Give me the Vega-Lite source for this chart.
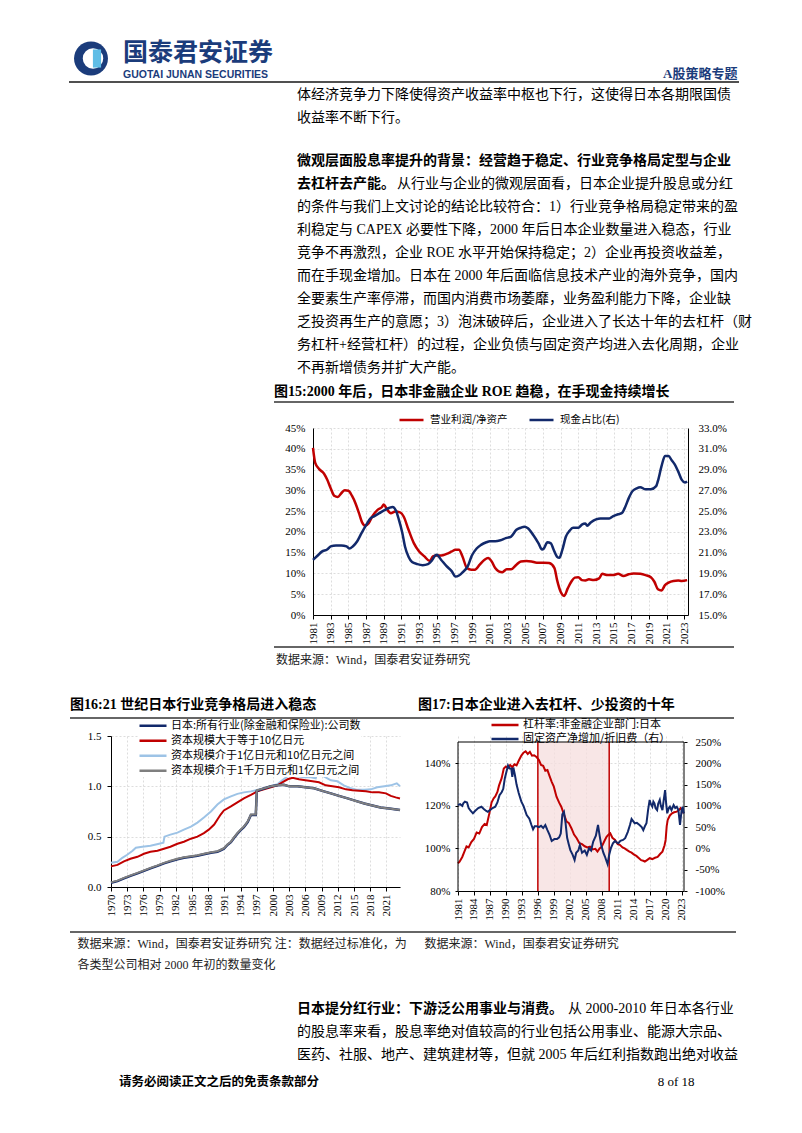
{
"$schema": "https://vega.github.io/schema/vega-lite/v6.json",
"background": "white",
"padding": 0,
"autosize": {"type": "pad"},
"spacing": 0,
"bounds": "full",
"resolve": {"scale": {"color": "independent"}, "legend": {"color": "independent"}},
"config": {
  "view": {"stroke": null},
  "axis": {"labelFont": "Liberation Serif", "labelFontSize": 11, "labelColor": "#000", "domainColor": "#000", "tickColor": "#000", "tickSize": 3, "gridColor": "#d4d4d4", "gridDash": [2, 2], "gridWidth": 0.8, "labelOverlap": false, "labelPadding": 3},
  "legend": {"labelFont": "Noto Sans CJK SC", "labelFontSize": 11, "labelColor": "#000", "symbolType": "stroke", "symbolStrokeWidth": 2.5, "labelLimit": 400, "padding": 0}
},
"datasets": {
  "roe": [{"t":1981.0,"v":40.2},{"t":1981.25,"v":36.6},{"t":1981.7,"v":35.1},{"t":1982.25,"v":34.0},{"t":1982.6,"v":32.6},{"t":1983.0,"v":30.5},{"t":1983.4,"v":28.7},{"t":1983.8,"v":28.4},{"t":1984.2,"v":29.3},{"t":1984.6,"v":30.0},{"t":1985.0,"v":29.9},{"t":1985.4,"v":28.7},{"t":1985.8,"v":26.9},{"t":1986.2,"v":24.5},{"t":1986.55,"v":22.3},{"t":1986.9,"v":21.5},{"t":1987.3,"v":22.1},{"t":1987.7,"v":23.7},{"t":1988.3,"v":25.3},{"t":1988.8,"v":26.0},{"t":1989.0,"v":26.6},{"t":1989.3,"v":25.7},{"t":1989.8,"v":24.5},{"t":1990.3,"v":24.9},{"t":1990.85,"v":24.7},{"t":1991.25,"v":23.7},{"t":1991.8,"v":20.5},{"t":1992.4,"v":17.3},{"t":1993.0,"v":15.3},{"t":1993.6,"v":14.1},{"t":1994.2,"v":13.0},{"t":1994.55,"v":14.1},{"t":1995.0,"v":14.3},{"t":1995.5,"v":14.3},{"t":1996.1,"v":14.7},{"t":1996.7,"v":15.3},{"t":1997.1,"v":15.7},{"t":1997.5,"v":15.7},{"t":1997.9,"v":14.1},{"t":1998.4,"v":11.3},{"t":1998.9,"v":10.9},{"t":1999.3,"v":10.9},{"t":1999.85,"v":12.1},{"t":2000.4,"v":13.3},{"t":2000.8,"v":13.7},{"t":2001.2,"v":12.9},{"t":2001.6,"v":11.3},{"t":2002.0,"v":10.5},{"t":2002.4,"v":10.3},{"t":2002.9,"v":11.0},{"t":2003.4,"v":11.0},{"t":2004.0,"v":12.1},{"t":2004.5,"v":12.9},{"t":2005.1,"v":13.0},{"t":2005.7,"v":12.9},{"t":2006.3,"v":12.6},{"t":2007.1,"v":12.6},{"t":2007.7,"v":12.5},{"t":2008.3,"v":11.3},{"t":2008.6,"v":8.4},{"t":2009.0,"v":5.6},{"t":2009.4,"v":4.6},{"t":2009.8,"v":6.4},{"t":2010.2,"v":8.0},{"t":2010.6,"v":9.0},{"t":2011.0,"v":9.1},{"t":2011.4,"v":8.4},{"t":2011.8,"v":8.3},{"t":2012.2,"v":8.6},{"t":2012.75,"v":8.4},{"t":2013.35,"v":8.8},{"t":2013.7,"v":9.9},{"t":2014.3,"v":9.6},{"t":2014.9,"v":9.6},{"t":2015.5,"v":9.9},{"t":2016.1,"v":9.4},{"t":2016.7,"v":9.8},{"t":2017.25,"v":10.0},{"t":2018.0,"v":9.9},{"t":2018.6,"v":9.6},{"t":2019.2,"v":9.1},{"t":2019.6,"v":8.0},{"t":2020.0,"v":6.2},{"t":2020.4,"v":5.9},{"t":2020.8,"v":7.2},{"t":2021.2,"v":7.8},{"t":2021.75,"v":8.2},{"t":2022.3,"v":8.3},{"t":2022.7,"v":8.2},{"t":2023.3,"v":8.4}],
  "cash": [{"t":1981.0,"v":20.3},{"t":1981.5,"v":20.7},{"t":1982.0,"v":21.1},{"t":1982.6,"v":21.3},{"t":1983.0,"v":21.6},{"t":1983.6,"v":21.7},{"t":1984.2,"v":21.7},{"t":1984.8,"v":21.6},{"t":1985.1,"v":21.4},{"t":1985.5,"v":21.6},{"t":1986.0,"v":22.1},{"t":1986.5,"v":22.9},{"t":1987.1,"v":23.8},{"t":1987.5,"v":24.3},{"t":1987.9,"v":24.5},{"t":1988.5,"v":24.8},{"t":1989.1,"v":25.1},{"t":1989.6,"v":25.3},{"t":1990.0,"v":25.4},{"t":1990.4,"v":25.0},{"t":1990.7,"v":24.2},{"t":1991.1,"v":22.9},{"t":1991.4,"v":21.6},{"t":1991.8,"v":20.6},{"t":1992.2,"v":20.1},{"t":1992.8,"v":19.9},{"t":1993.4,"v":19.8},{"t":1994.0,"v":19.9},{"t":1994.4,"v":20.2},{"t":1994.8,"v":20.7},{"t":1995.0,"v":20.8},{"t":1995.5,"v":20.3},{"t":1996.1,"v":19.7},{"t":1996.7,"v":19.2},{"t":1997.1,"v":18.7},{"t":1997.5,"v":18.8},{"t":1997.9,"v":19.1},{"t":1998.5,"v":19.7},{"t":1998.95,"v":20.7},{"t":1999.5,"v":21.4},{"t":2000.0,"v":21.75},{"t":2000.6,"v":22.0},{"t":2001.0,"v":22.1},{"t":2001.6,"v":22.1},{"t":2002.2,"v":22.2},{"t":2002.8,"v":22.4},{"t":2003.4,"v":22.55},{"t":2004.0,"v":23.2},{"t":2004.5,"v":23.4},{"t":2004.9,"v":23.5},{"t":2005.3,"v":23.35},{"t":2005.9,"v":22.7},{"t":2006.5,"v":21.9},{"t":2006.9,"v":21.3},{"t":2007.1,"v":21.4},{"t":2007.5,"v":22.0},{"t":2007.9,"v":21.9},{"t":2008.2,"v":21.3},{"t":2008.6,"v":20.6},{"t":2008.85,"v":20.5},{"t":2009.2,"v":21.3},{"t":2009.6,"v":22.55},{"t":2010.0,"v":23.1},{"t":2010.4,"v":23.4},{"t":2011.0,"v":23.4},{"t":2011.4,"v":23.7},{"t":2011.8,"v":23.8},{"t":2012.0,"v":23.6},{"t":2012.4,"v":23.9},{"t":2013.0,"v":24.2},{"t":2013.5,"v":24.3},{"t":2014.1,"v":24.3},{"t":2014.5,"v":24.3},{"t":2014.9,"v":24.5},{"t":2015.5,"v":24.7},{"t":2015.9,"v":24.8},{"t":2016.3,"v":25.4},{"t":2016.7,"v":26.25},{"t":2017.1,"v":26.9},{"t":2017.6,"v":27.2},{"t":2018.0,"v":27.3},{"t":2018.6,"v":27.1},{"t":2019.2,"v":27.1},{"t":2019.8,"v":27.4},{"t":2020.0,"v":27.9},{"t":2020.4,"v":29.3},{"t":2020.8,"v":30.3},{"t":2021.2,"v":30.3},{"t":2021.55,"v":29.9},{"t":2021.9,"v":29.5},{"t":2022.3,"v":28.8},{"t":2022.7,"v":28.0},{"t":2023.05,"v":27.75},{"t":2023.3,"v":27.85}],
  "lb": [{"t":1970,"v":0.24},{"t":1971.2,"v":0.25},{"t":1972.1,"v":0.29},{"t":1973,"v":0.32},{"t":1974,"v":0.36},{"t":1974.6,"v":0.39},{"t":1975.8,"v":0.4},{"t":1977.3,"v":0.41},{"t":1978.9,"v":0.43},{"t":1979.7,"v":0.44},{"t":1979.9,"v":0.5},{"t":1981,"v":0.52},{"t":1982.3,"v":0.54},{"t":1983.5,"v":0.57},{"t":1984.8,"v":0.6},{"t":1986,"v":0.64},{"t":1987.2,"v":0.69},{"t":1988.5,"v":0.75},{"t":1989.7,"v":0.82},{"t":1990.9,"v":0.87},{"t":1992.2,"v":0.9},{"t":1993.4,"v":0.925},{"t":1994.6,"v":0.94},{"t":1995.9,"v":0.95},{"t":1997.1,"v":0.965},{"t":1998.3,"v":0.98},{"t":1999.6,"v":1.0},{"t":2000.8,"v":1.02},{"t":2001.7,"v":1.06},{"t":2002.7,"v":1.1},{"t":2003.3,"v":1.12},{"t":2004.5,"v":1.1},{"t":2005.7,"v":1.09},{"t":2007,"v":1.09},{"t":2007.9,"v":1.08},{"t":2008.2,"v":1.135},{"t":2009.4,"v":1.1},{"t":2010.7,"v":1.06},{"t":2011.9,"v":1.05},{"t":2013.1,"v":1.01},{"t":2014.4,"v":0.98},{"t":2015.6,"v":0.965},{"t":2016.9,"v":0.965},{"t":2018.1,"v":0.97},{"t":2019.3,"v":0.99},{"t":2020.6,"v":1.0},{"t":2021.8,"v":1.01},{"t":2022.9,"v":1.03},{"t":2023.5,"v":1.0}],
  "rd": [{"t":1970,"v":0.205},{"t":1971.2,"v":0.22},{"t":1972.4,"v":0.255},{"t":1973.6,"v":0.28},{"t":1974.9,"v":0.3},{"t":1976.1,"v":0.33},{"t":1977.3,"v":0.35},{"t":1978.6,"v":0.36},{"t":1979.8,"v":0.38},{"t":1981,"v":0.4},{"t":1982.3,"v":0.43},{"t":1983.5,"v":0.45},{"t":1984.8,"v":0.48},{"t":1986,"v":0.5},{"t":1987.2,"v":0.535},{"t":1988.1,"v":0.57},{"t":1989.1,"v":0.62},{"t":1989.7,"v":0.67},{"t":1990.3,"v":0.72},{"t":1990.9,"v":0.76},{"t":1992.2,"v":0.8},{"t":1993.4,"v":0.84},{"t":1994.6,"v":0.88},{"t":1995.9,"v":0.915},{"t":1997.1,"v":0.95},{"t":1998.3,"v":0.97},{"t":1999.6,"v":0.99},{"t":2000.8,"v":1.01},{"t":2001.7,"v":1.04},{"t":2002.7,"v":1.07},{"t":2003.6,"v":1.085},{"t":2004.8,"v":1.07},{"t":2006,"v":1.06},{"t":2007.3,"v":1.05},{"t":2008.5,"v":1.04},{"t":2009.75,"v":1.01},{"t":2011,"v":1.0},{"t":2012.2,"v":0.99},{"t":2013.5,"v":0.97},{"t":2014.7,"v":0.96},{"t":2015.9,"v":0.955},{"t":2017.2,"v":0.95},{"t":2018.4,"v":0.94},{"t":2019.6,"v":0.94},{"t":2020.9,"v":0.93},{"t":2021.8,"v":0.905},{"t":2022.7,"v":0.89},{"t":2023.5,"v":0.88}],
  "gy": [{"t":1970,"v":0.046},{"t":1971.2,"v":0.063},{"t":1972.4,"v":0.09},{"t":1973.6,"v":0.115},{"t":1974.9,"v":0.14},{"t":1976.1,"v":0.165},{"t":1977.3,"v":0.19},{"t":1978.6,"v":0.215},{"t":1979.8,"v":0.24},{"t":1981,"v":0.26},{"t":1982.3,"v":0.28},{"t":1983.5,"v":0.295},{"t":1984.8,"v":0.305},{"t":1986,"v":0.315},{"t":1987.2,"v":0.33},{"t":1988.5,"v":0.345},{"t":1989.7,"v":0.355},{"t":1990.3,"v":0.37},{"t":1990.9,"v":0.385},{"t":1991.6,"v":0.425},{"t":1992.2,"v":0.45},{"t":1992.8,"v":0.495},{"t":1993.4,"v":0.535},{"t":1994,"v":0.57},{"t":1994.6,"v":0.6},{"t":1995.3,"v":0.65},{"t":1995.9,"v":0.72},{"t":1996.5,"v":0.72},{"t":1996.8,"v":0.72},{"t":1997,"v":0.96},{"t":1998.3,"v":0.98},{"t":1999.6,"v":1.0},{"t":2000.8,"v":1.01},{"t":2002,"v":1.015},{"t":2003,"v":1.0},{"t":2004.5,"v":1.0},{"t":2006,"v":0.99},{"t":2007.6,"v":0.98},{"t":2009.1,"v":0.955},{"t":2010.7,"v":0.93},{"t":2012.2,"v":0.905},{"t":2013.8,"v":0.88},{"t":2015.3,"v":0.855},{"t":2016.9,"v":0.83},{"t":2018.4,"v":0.81},{"t":2019.9,"v":0.79},{"t":2021.5,"v":0.78},{"t":2023.5,"v":0.765}],
  "nv": [{"t":1970,"v":0.042},{"t":1971.2,"v":0.058},{"t":1972.4,"v":0.085},{"t":1973.6,"v":0.11},{"t":1974.9,"v":0.135},{"t":1976.1,"v":0.16},{"t":1977.3,"v":0.185},{"t":1978.6,"v":0.21},{"t":1979.8,"v":0.235},{"t":1981,"v":0.255},{"t":1982.3,"v":0.275},{"t":1983.5,"v":0.29},{"t":1984.8,"v":0.3},{"t":1986,"v":0.31},{"t":1987.2,"v":0.325},{"t":1988.5,"v":0.34},{"t":1989.7,"v":0.35},{"t":1990.3,"v":0.365},{"t":1990.9,"v":0.38},{"t":1991.6,"v":0.42},{"t":1992.2,"v":0.445},{"t":1992.8,"v":0.49},{"t":1993.4,"v":0.53},{"t":1994,"v":0.565},{"t":1994.6,"v":0.595},{"t":1995.3,"v":0.645},{"t":1995.9,"v":0.715},{"t":1996.5,"v":0.715},{"t":1996.8,"v":0.715},{"t":1997,"v":0.955},{"t":1998.3,"v":0.978},{"t":1999.6,"v":1.0},{"t":2000.8,"v":1.01},{"t":2002,"v":1.015},{"t":2003,"v":1.0},{"t":2004.5,"v":1.0},{"t":2006,"v":0.99},{"t":2007.6,"v":0.98},{"t":2009.1,"v":0.955},{"t":2010.7,"v":0.93},{"t":2012.2,"v":0.905},{"t":2013.8,"v":0.88},{"t":2015.3,"v":0.855},{"t":2016.9,"v":0.83},{"t":2018.4,"v":0.81},{"t":2019.9,"v":0.79},{"t":2021.5,"v":0.78},{"t":2023.5,"v":0.765}],
  "lev": [{"t":1981.0,"v":93.0},{"t":1981.3,"v":93.8},{"t":1981.8,"v":96.0},{"t":1982.2,"v":98.5},{"t":1982.6,"v":101.0},{"t":1983.0,"v":100.5},{"t":1983.5,"v":103.0},{"t":1984.0,"v":104.5},{"t":1984.5,"v":107.5},{"t":1985.0,"v":107.0},{"t":1985.5,"v":110.0},{"t":1986.0,"v":111.5},{"t":1986.4,"v":111.0},{"t":1986.9,"v":116.6},{"t":1987.3,"v":121.5},{"t":1987.7,"v":123.5},{"t":1988.0,"v":124.4},{"t":1988.4,"v":126.5},{"t":1988.7,"v":129.5},{"t":1989.2,"v":133.0},{"t":1989.6,"v":137.5},{"t":1990.0,"v":138.5},{"t":1990.4,"v":137.8},{"t":1990.8,"v":139.2},{"t":1991.2,"v":138.2},{"t":1991.6,"v":139.5},{"t":1992.0,"v":139.0},{"t":1992.4,"v":141.2},{"t":1992.9,"v":143.6},{"t":1993.3,"v":145.0},{"t":1993.7,"v":145.6},{"t":1994.1,"v":144.4},{"t":1994.5,"v":145.4},{"t":1994.9,"v":143.6},{"t":1995.3,"v":143.8},{"t":1995.8,"v":142.8},{"t":1996.2,"v":141.5},{"t":1996.6,"v":139.2},{"t":1997.0,"v":138.8},{"t":1997.4,"v":136.5},{"t":1997.8,"v":136.8},{"t":1998.2,"v":134.0},{"t":1998.6,"v":131.3},{"t":1999.0,"v":129.0},{"t":1999.5,"v":124.3},{"t":2000.0,"v":121.5},{"t":2000.4,"v":119.6},{"t":2000.9,"v":116.0},{"t":2001.4,"v":112.6},{"t":2001.8,"v":112.0},{"t":2002.3,"v":109.5},{"t":2002.8,"v":106.5},{"t":2003.3,"v":104.8},{"t":2003.8,"v":102.5},{"t":2004.3,"v":102.0},{"t":2004.8,"v":101.0},{"t":2005.3,"v":100.5},{"t":2005.8,"v":100.8},{"t":2006.3,"v":99.5},{"t":2006.8,"v":99.8},{"t":2007.2,"v":98.5},{"t":2007.6,"v":100.0},{"t":2008.0,"v":100.8},{"t":2008.5,"v":103.5},{"t":2008.9,"v":105.5},{"t":2009.3,"v":106.5},{"t":2009.6,"v":107.1},{"t":2010.0,"v":105.0},{"t":2010.5,"v":104.0},{"t":2011.0,"v":102.0},{"t":2011.4,"v":101.7},{"t":2011.9,"v":100.5},{"t":2012.3,"v":100.0},{"t":2012.7,"v":99.3},{"t":2013.2,"v":98.5},{"t":2013.6,"v":98.0},{"t":2014.0,"v":97.2},{"t":2014.5,"v":96.5},{"t":2015.0,"v":95.4},{"t":2015.4,"v":94.5},{"t":2015.8,"v":94.2},{"t":2016.1,"v":93.8},{"t":2016.5,"v":94.5},{"t":2017.0,"v":95.4},{"t":2017.5,"v":95.0},{"t":2018.0,"v":95.6},{"t":2018.5,"v":96.0},{"t":2019.0,"v":97.5},{"t":2019.4,"v":98.5},{"t":2019.8,"v":101.5},{"t":2020.0,"v":104.0},{"t":2020.2,"v":110.5},{"t":2020.4,"v":113.5},{"t":2020.8,"v":115.5},{"t":2021.2,"v":116.5},{"t":2021.6,"v":117.0},{"t":2022.1,"v":117.3},{"t":2022.5,"v":118.0},{"t":2022.8,"v":118.9},{"t":2023.1,"v":117.8},{"t":2023.4,"v":116.5}],
  "fa": [{"t":1981.0,"v":102},{"t":1981.4,"v":104},{"t":1981.8,"v":100},{"t":1982.0,"v":106},{"t":1982.3,"v":110},{"t":1982.7,"v":108},{"t":1983.0,"v":95},{"t":1983.4,"v":88},{"t":1983.8,"v":82.5},{"t":1984.2,"v":88},{"t":1984.8,"v":95},{"t":1985.4,"v":98},{"t":1985.9,"v":92},{"t":1986.3,"v":88},{"t":1986.6,"v":86},{"t":1987.0,"v":90},{"t":1987.5,"v":95},{"t":1988.0,"v":98},{"t":1988.4,"v":108},{"t":1988.8,"v":125},{"t":1989.2,"v":132},{"t":1989.5,"v":140},{"t":1989.8,"v":165},{"t":1990.1,"v":180},{"t":1990.4,"v":195},{"t":1990.7,"v":188},{"t":1991.0,"v":188},{"t":1991.2,"v":168},{"t":1991.4,"v":190},{"t":1991.7,"v":172},{"t":1992.0,"v":150},{"t":1992.4,"v":130},{"t":1992.9,"v":110},{"t":1993.3,"v":100},{"t":1993.9,"v":78.5},{"t":1994.4,"v":70},{"t":1994.8,"v":55},{"t":1995.1,"v":45},{"t":1995.4,"v":52},{"t":1995.8,"v":52},{"t":1996.2,"v":50},{"t":1996.6,"v":53},{"t":1997.0,"v":48},{"t":1997.4,"v":55},{"t":1997.8,"v":43},{"t":1998.2,"v":32},{"t":1998.6,"v":17.5},{"t":1999.1,"v":22},{"t":1999.6,"v":22},{"t":2000.0,"v":26},{"t":2000.3,"v":35},{"t":2000.6,"v":80},{"t":2000.9,"v":86},{"t":2001.2,"v":60},{"t":2001.5,"v":25},{"t":2001.8,"v":10},{"t":2002.1,"v":-4},{"t":2002.5,"v":-14},{"t":2002.9,"v":-27},{"t":2003.2,"v":-10},{"t":2003.6,"v":-5},{"t":2003.9,"v":8},{"t":2004.3,"v":-10},{"t":2004.8,"v":-5},{"t":2005.2,"v":-15},{"t":2005.6,"v":0},{"t":2006.0,"v":-5},{"t":2006.4,"v":16},{"t":2006.9,"v":30},{"t":2007.3,"v":55},{"t":2007.6,"v":30},{"t":2007.9,"v":8},{"t":2008.3,"v":-10},{"t":2008.6,"v":-19},{"t":2008.9,"v":-30},{"t":2009.1,"v":-37},{"t":2009.4,"v":-15},{"t":2009.7,"v":0},{"t":2010.1,"v":12},{"t":2010.5,"v":17.5},{"t":2010.8,"v":14},{"t":2011.1,"v":12},{"t":2011.5,"v":18},{"t":2012.0,"v":20},{"t":2012.4,"v":24},{"t":2012.9,"v":39},{"t":2013.3,"v":55},{"t":2013.6,"v":69},{"t":2013.9,"v":64},{"t":2014.2,"v":59},{"t":2014.6,"v":60},{"t":2015.1,"v":55},{"t":2015.5,"v":50},{"t":2015.8,"v":43},{"t":2016.1,"v":52},{"t":2016.4,"v":59},{"t":2016.7,"v":90},{"t":2017.0,"v":114},{"t":2017.2,"v":105},{"t":2017.5,"v":98},{"t":2017.7,"v":110},{"t":2017.9,"v":106},{"t":2018.1,"v":95},{"t":2018.4,"v":90},{"t":2018.6,"v":105},{"t":2018.9,"v":114},{"t":2019.1,"v":100},{"t":2019.4,"v":90},{"t":2019.6,"v":110},{"t":2019.9,"v":137},{"t":2020.1,"v":105},{"t":2020.3,"v":82.5},{"t":2020.6,"v":95},{"t":2020.8,"v":98},{"t":2021.1,"v":90},{"t":2021.5,"v":102},{"t":2021.8,"v":95},{"t":2022.1,"v":98},{"t":2022.4,"v":90},{"t":2022.7,"v":55},{"t":2023.0,"v":90},{"t":2023.2,"v":98},{"t":2023.4,"v":82}]
},
"vconcat": [
  {"width":1,"height":36,"data":{"values":[]},"mark":"point"},

  {"hconcat":[
    {"width":69,"height":1,"data":{"values":[]},"mark":"point"},
    {"width":108,"height":45,"data":{"values":[{"name":"国泰君安证券","en":"GUOTAI JUNAN SECURITIES"}]},
     "layer":[
      {"mark":{"type":"point","shape":"circle","filled":true,"size":1150,"color":"#1b3c7b","opacity":1,"xOffset":-32},"encoding":{}},
      {"mark":{"type":"point","shape":"circle","filled":true,"size":420,"color":"#ffffff","opacity":1,"xOffset":-30},"encoding":{}},
      {"mark":{"type":"point","shape":"M-0.45,-1L0.45,-1L0.45,1L-0.45,1Z","filled":true,"size":330,"color":"#5fbde6","opacity":1,"xOffset":-26},"encoding":{}},
      {"mark":{"type":"text","align":"left","baseline":"middle","font":"Noto Sans CJK SC","fontSize":25,"fontWeight":"bold","color":"#1b3c7b","dy":-6},"encoding":{"text":{"field":"name"}}},
      {"mark":{"type":"text","align":"left","baseline":"middle","font":"Liberation Sans","fontSize":10.5,"fontWeight":"bold","color":"#1b3c7b","dy":16},"encoding":{"text":{"field":"en"}}}
     ]},
    {"width":560,"height":1,"data":{"values":[]},"mark":"point"},
    {"width":1,"height":45,"data":{"values":[{"t":"A股策略专题"}]},"mark":{"type":"text","align":"right","baseline":"middle","font":"Liberation Serif, Noto Sans CJK SC","fontSize":13,"fontWeight":"bold","color":"#1b3c7b","dy":15.5},"encoding":{"text":{"field":"t"}}}
  ],"spacing":0,"bounds":"flush"},

  {"hconcat":[
    {"width":69,"height":2,"data":{"values":[]},"mark":"point"},
    {"width":670,"height":2,"data":{"values":[{}]},"mark":{"type":"rule","color":"#505050","strokeWidth":2},"encoding":{"y":{"datum":0.5,"type":"quantitative","scale":{"domain":[0,1]},"axis":null}}}
  ],"spacing":0,"bounds":"flush"},

  {"width":594,"height":{"step":23},"data":{"values":[{"line":1,"text":"体经济竞争力下降使得资产收益率中枢也下行，这使得日本各期限国债"},{"line":2,"text":"收益率不断下行。"}]},
   "mark":{"type":"text","align":"left","baseline":"middle","font":"Liberation Serif, Noto Sans CJK SC","fontSize":14,"color":"#000"},
   "encoding":{"y":{"field":"line","type":"ordinal","axis":null},"text":{"field":"text"}}},

  {"width":1,"height":20,"data":{"values":[]},"mark":"point"},

  {"width":594,"height":{"step":23},
   "data":{"values":[
    {"line":1,"w":"b","text":"微观层面股息率提升的背景：经营趋于稳定、行业竞争格局定型与企业"},
    {"line":2,"w":"b","text":"去杠杆去产能。"},
    {"line":2,"w":"m","text":"从行业与企业的微观层面看，日本企业提升股息或分红"},
    {"line":3,"w":"n","text":"的条件与我们上文讨论的结论比较符合：1）行业竞争格局稳定带来的盈"},
    {"line":4,"w":"n","text":"利稳定与 CAPEX 必要性下降，2000 年后日本企业数量进入稳态，行业"},
    {"line":5,"w":"n","text":"竞争不再激烈，企业 ROE 水平开始保持稳定；2）企业再投资收益差，"},
    {"line":6,"w":"n","text":"而在手现金增加。日本在 2000 年后面临信息技术产业的海外竞争，国内"},
    {"line":7,"w":"n","text":"全要素生产率停滞，而国内消费市场萎靡，业务盈利能力下降，企业缺"},
    {"line":8,"w":"n","text":"乏投资再生产的意愿；3）泡沫破碎后，企业进入了长达十年的去杠杆（财"},
    {"line":9,"w":"n","text":"务杠杆+经营杠杆）的过程，企业负债与固定资产均进入去化周期，企业"},
    {"line":10,"w":"n","text":"不再新增债务并扩大产能。"}]},
   "encoding":{"y":{"field":"line","type":"ordinal","axis":null},"text":{"field":"text"}},
   "layer":[
    {"transform":[{"filter":"datum.w == 'b'"}],"mark":{"type":"text","align":"left","baseline":"middle","font":"Liberation Serif, Noto Sans CJK SC","fontSize":14,"fontWeight":"bold","color":"#000"}},
    {"transform":[{"filter":"datum.w == 'n'"}],"mark":{"type":"text","align":"left","baseline":"middle","font":"Liberation Serif, Noto Sans CJK SC","fontSize":14,"color":"#000"}},
    {"transform":[{"filter":"datum.w == 'm'"}],"mark":{"type":"text","align":"left","baseline":"middle","font":"Liberation Serif, Noto Sans CJK SC","fontSize":14,"color":"#000","dx":100}}
   ]},

  {"width":548,"height":22,"data":{"values":[{"t":"图15:2000 年后，日本非金融企业 ROE 趋稳，在手现金持续增长"}]},"mark":{"type":"text","align":"left","baseline":"middle","font":"Liberation Serif, Noto Sans CJK SC","fontSize":14,"fontWeight":"bold","color":"#000","dy":2},"encoding":{"text":{"field":"t"}}},

  {"hconcat":[
    {"width":274,"height":2,"data":{"values":[]},"mark":"point"},
    {"width":460,"height":2,"data":{"values":[{}]},"mark":{"type":"rule","color":"#333","strokeWidth":1.5},"encoding":{"y":{"datum":0.5,"type":"quantitative","scale":{"domain":[0,1]},"axis":null}}}
  ],"spacing":0,"bounds":"flush"},

  {"width":1,"height":11,"data":{"values":[]},"mark":"point"},

  {"hconcat":[
    {"width":313,"height":1,"data":{"values":[]},"mark":"point"},
    {"width":375,"height":187,
     "layer":[
      {"data":{"name":"roe"},"mark":{"type":"line","strokeWidth":2.5,"interpolate":"monotone"},
       "encoding":{
        "x":{"field":"t","type":"quantitative","scale":{"domain":[1981,2023.4],"nice":false,"zero":false},"axis":{"title":null,"values":[1981,1983,1985,1987,1989,1991,1993,1995,1997,1999,2001,2003,2005,2007,2009,2011,2013,2015,2017,2019,2021,2023],"format":"d","labelAngle":270,"grid":true,"tickSize":4,"labelOverlap":false}},
        "y":{"field":"v","type":"quantitative","scale":{"domain":[0,45],"nice":false},"axis":{"title":null,"values":[0,5,10,15,20,25,30,35,40,45],"labelExpr":"datum.value + '%'","grid":true,"ticks":false,"labelPadding":8}},
        "color":{"datum":"营业利润/净资产","type":"nominal","scale":{"domain":["营业利润/净资产","现金占比(右)"],"range":["#c00000","#12296b"]},
                 "legend":{"title":null,"orient":"none","legendX":85,"legendY":-14,"direction":"horizontal","symbolSize":576,"clipHeight":12,"columnPadding":20,"labelOffset":5,"labelFontSize":10.5}}}},
      {"data":{"name":"cash"},"mark":{"type":"line","strokeWidth":2.5,"interpolate":"monotone"},
       "encoding":{
        "x":{"field":"t","type":"quantitative","axis":{"title":null,"values":[1981,1983,1985,1987,1989,1991,1993,1995,1997,1999,2001,2003,2005,2007,2009,2011,2013,2015,2017,2019,2021,2023],"format":"d","labelAngle":270,"grid":true,"tickSize":4,"labelOverlap":false}},
        "y":{"field":"v","type":"quantitative","scale":{"domain":[15,33],"nice":false,"zero":false},"axis":{"title":null,"orient":"right","values":[15,17,19,21,23,25,27,29,31,33],"labelExpr":"format(datum.value, '.1f') + '%'","grid":false,"ticks":false,"labelPadding":10}},
        "color":{"datum":"现金占比(右)","type":"nominal"}}}
     ],
     "resolve":{"scale":{"y":"independent"}}},
    {"width":1,"height":218,"data":{"values":[]},"mark":"point"}
  ],"spacing":0,"bounds":"flush","resolve":{"scale":{"color":"independent"},"legend":{"color":"independent"}}},

  {"hconcat":[
    {"width":274,"height":2,"data":{"values":[]},"mark":"point"},
    {"width":460,"height":2,"data":{"values":[{}]},"mark":{"type":"rule","color":"#333","strokeWidth":1.5},"encoding":{"y":{"datum":0.5,"type":"quantitative","scale":{"domain":[0,1]},"axis":null}}}
  ],"spacing":0,"bounds":"flush"},

  {"width":552,"height":24,"data":{"values":[{"t":"数据来源：Wind，国泰君安证券研究"}]},"mark":{"type":"text","align":"left","baseline":"middle","font":"Liberation Serif, Noto Sans CJK SC","fontSize":12,"color":"#222"},"encoding":{"text":{"field":"t"}}},

  {"width":1,"height":23,"data":{"values":[]},"mark":"point"},

  {"hconcat":[
    {"width":140,"height":20,"data":{"values":[{"t":"图16:21 世纪日本行业竞争格局进入稳态"}]},"mark":{"type":"text","align":"left","baseline":"middle","font":"Liberation Serif, Noto Sans CJK SC","fontSize":14,"fontWeight":"bold","color":"#000"},"encoding":{"text":{"field":"t"}}},
    {"width":556,"height":20,"data":{"values":[{"t":"图17:日本企业进入去杠杆、少投资的十年"}]},"mark":{"type":"text","align":"left","baseline":"middle","font":"Liberation Serif, Noto Sans CJK SC","fontSize":14,"fontWeight":"bold","color":"#000"},"encoding":{"text":{"field":"t"}}}
  ],"spacing":0,"bounds":"flush"},

  {"width":1,"height":2,"data":{"values":[]},"mark":"point"},

  {"hconcat":[
    {"width":70,"height":2,"data":{"values":[]},"mark":"point"},
    {"width":664,"height":2,"data":{"values":[{}]},"mark":{"type":"rule","color":"#333","strokeWidth":1.5},"encoding":{"y":{"datum":0.5,"type":"quantitative","scale":{"domain":[0,1]},"axis":null}}}
  ],"spacing":0,"bounds":"flush"},

  {"hconcat":[
    {"width":111,"height":1,"data":{"values":[]},"mark":"point"},
    {"width":289,"height":151,
     "encoding":{
       "x":{"field":"t","type":"quantitative","scale":{"domain":[1970,2023.5],"nice":false,"zero":false},"axis":{"title":null,"values":[1970,1973,1976,1979,1982,1985,1988,1991,1994,1997,2000,2003,2006,2009,2012,2015,2018,2021],"format":"d","labelAngle":270,"grid":true,"tickSize":4,"labelOverlap":false}},
       "y":{"field":"v","type":"quantitative","scale":{"domain":[0,1.5],"nice":false},"axis":{"title":null,"values":[0,0.5,1,1.5],"format":".1f","grid":true,"tickSize":4,"labelPadding":6}}
     },
     "layer":[
      {"data":{"name":"lb"},"mark":{"type":"line","strokeWidth":2},"encoding":{"color":{"datum":"资本规模介于1亿日元和10亿日元之间","type":"nominal","scale":{"domain":["日本:所有行业(除金融和保险业):公司数","资本规模大于等于10亿日元","资本规模介于1亿日元和10亿日元之间","资本规模介于1千万日元和1亿日元之间"],"range":["#12296b","#c00000","#9dc3e6","#7f7f7f"]},
        "legend":{"title":null,"orient":"none","legendX":27,"legendY":-16,"direction":"vertical","symbolSize":729,"clipHeight":11.7,"labelOffset":3,"labelFontSize":11,"fillColor":"white"}}}},
      {"data":{"name":"rd"},"mark":{"type":"line","strokeWidth":2},"encoding":{"color":{"datum":"资本规模大于等于10亿日元","type":"nominal"}}},
      {"data":{"name":"nv"},"mark":{"type":"line","strokeWidth":2.5},"encoding":{"color":{"datum":"日本:所有行业(除金融和保险业):公司数","type":"nominal"}}},
      {"data":{"name":"gy"},"mark":{"type":"line","strokeWidth":2},"encoding":{"color":{"datum":"资本规模介于1千万日元和1亿日元之间","type":"nominal"}}}
     ]},
    {"width":58,"height":1,"data":{"values":[]},"mark":"point"},
    {"width":226,"height":155,
     "layer":[
      {"layer":[
        {"data":{"values":[{"a":1996,"b":2009.4}]},"mark":{"type":"rect","color":"#f5dede","opacity":0.75},"encoding":{"x":{"field":"a","type":"quantitative","scale":{"domain":[1981,2023.45],"nice":false,"zero":false},"axis":{"title":null,"values":[1981,1984,1987,1990,1993,1996,1999,2002,2005,2008,2011,2014,2017,2020,2023],"format":"d","labelAngle":270,"grid":true,"tickSize":4,"labelOverlap":false}},"x2":{"field":"b"},"y":{"datum":80,"type":"quantitative"},"y2":{"datum":150}}},
        {"data":{"values":[{"a":1996,"b":2009.4}]},"mark":{"type":"rule","color":"#c00000","strokeWidth":1.5},"encoding":{"x":{"field":"a","type":"quantitative","axis":{"title":null,"values":[1981,1984,1987,1990,1993,1996,1999,2002,2005,2008,2011,2014,2017,2020,2023],"format":"d","labelAngle":270,"grid":true,"tickSize":4,"labelOverlap":false}},"y":{"datum":80,"type":"quantitative"},"y2":{"datum":150}}},
        {"data":{"values":[{"a":1996,"b":2009.4}]},"mark":{"type":"rule","color":"#c00000","strokeWidth":1.5},"encoding":{"x":{"field":"b","type":"quantitative","axis":{"title":null,"values":[1981,1984,1987,1990,1993,1996,1999,2002,2005,2008,2011,2014,2017,2020,2023],"format":"d","labelAngle":270,"grid":true,"tickSize":4,"labelOverlap":false}},"y":{"datum":80,"type":"quantitative"},"y2":{"datum":150}}},
        {"data":{"name":"lev"},"mark":{"type":"line","strokeWidth":2,"interpolate":"linear"},
         "encoding":{
          "x":{"field":"t","type":"quantitative","scale":{"domain":[1981,2023.45],"nice":false,"zero":false},"axis":{"title":null,"values":[1981,1984,1987,1990,1993,1996,1999,2002,2005,2008,2011,2014,2017,2020,2023],"format":"d","labelAngle":270,"grid":true,"tickSize":4,"labelOverlap":false}},
          "y":{"field":"v","type":"quantitative","scale":{"domain":[80,152.82],"nice":false,"zero":false},"axis":{"title":null,"values":[80,90,100,110,120,130,140,150],"labelExpr":"datum.value + '%'","grid":true,"domain":false,"tickSize":3,"labelPadding":5}},
          "color":{"datum":"杠杆率:非金融企业部门:日本","type":"nominal","scale":{"domain":["杠杆率:非金融企业部门:日本","固定资产净增加/折旧费（右）"],"range":["#c00000","#12296b"]},
            "legend":{"title":null,"orient":"none","legendX":32,"legendY":-17,"direction":"vertical","symbolSize":729,"clipHeight":12,"labelOffset":3,"labelFontSize":11}}}},
        {"data":{"values":[{}]},"mark":{"type":"rule","color":"#000","strokeWidth":1},"encoding":{"x":{"datum":1981,"type":"quantitative","axis":{"title":null,"values":[1981,1984,1987,1990,1993,1996,1999,2002,2005,2008,2011,2014,2017,2020,2023],"format":"d","labelAngle":270,"grid":true,"tickSize":4,"labelOverlap":false}},"x2":{"datum":2023.45},"y":{"datum":150,"type":"quantitative"}}},
        {"data":{"values":[{}]},"mark":{"type":"rule","color":"#000","strokeWidth":1},"encoding":{"x":{"datum":1981,"type":"quantitative","axis":{"title":null,"values":[1981,1984,1987,1990,1993,1996,1999,2002,2005,2008,2011,2014,2017,2020,2023],"format":"d","labelAngle":270,"grid":true,"tickSize":4,"labelOverlap":false}},"y":{"datum":80,"type":"quantitative"},"y2":{"datum":150}}},
        {"data":{"values":[{}]},"mark":{"type":"rule","color":"#000","strokeWidth":1},"encoding":{"x":{"datum":2023.45,"type":"quantitative","axis":{"title":null,"values":[1981,1984,1987,1990,1993,1996,1999,2002,2005,2008,2011,2014,2017,2020,2023],"format":"d","labelAngle":270,"grid":true,"tickSize":4,"labelOverlap":false}},"y":{"datum":80,"type":"quantitative"},"y2":{"datum":150}}}
      ]},
      {"data":{"name":"fa"},"mark":{"type":"line","strokeWidth":2,"interpolate":"linear"},
       "encoding":{
        "x":{"field":"t","type":"quantitative","axis":{"title":null,"values":[1981,1984,1987,1990,1993,1996,1999,2002,2005,2008,2011,2014,2017,2020,2023],"format":"d","labelAngle":270,"grid":true,"tickSize":4,"labelOverlap":false}},
        "y":{"field":"v","type":"quantitative","scale":{"domain":[-100,264.1],"nice":false,"zero":false},"axis":{"title":null,"orient":"right","values":[-100,-50,0,50,100,150,200,250],"labelExpr":"datum.value + '%'","grid":false,"domain":false,"tickSize":3,"labelPadding":8}},
        "color":{"datum":"固定资产净增加/折旧费（右）","type":"nominal"}}}
     ],
     "resolve":{"scale":{"y":"independent"}}},
    {"width":1,"height":195,"data":{"values":[]},"mark":"point"}
  ],"spacing":0,"bounds":"flush","resolve":{"scale":{"color":"independent"},"legend":{"color":"independent"}}},

  {"hconcat":[
    {"width":70,"height":2,"data":{"values":[]},"mark":"point"},
    {"width":666,"height":2,"data":{"values":[{}]},"mark":{"type":"rule","color":"#333","strokeWidth":1.5},"encoding":{"y":{"datum":0.5,"type":"quantitative","scale":{"domain":[0,1]},"axis":null}}}
  ],"spacing":0,"bounds":"flush"},

  {"hconcat":[
    {"width":155,"height":{"step":21},"data":{"values":[{"line":1,"text":"数据来源：Wind，国泰君安证券研究  注：数据经过标准化，为"},{"line":2,"text":"各类型公司相对 2000 年初的数量变化"}]},"mark":{"type":"text","align":"left","baseline":"middle","font":"Liberation Serif, Noto Sans CJK SC","fontSize":12,"color":"#222"},"encoding":{"y":{"field":"line","type":"ordinal","axis":null},"text":{"field":"text"}}},
    {"width":539,"height":{"step":21},"data":{"values":[{"line":1,"text":"数据来源：Wind，国泰君安证券研究"}]},"mark":{"type":"text","align":"left","baseline":"middle","font":"Liberation Serif, Noto Sans CJK SC","fontSize":12,"color":"#222"},"encoding":{"y":{"field":"line","type":"ordinal","axis":null},"text":{"field":"text"}}}
  ],"spacing":0,"bounds":"flush"},

  {"width":1,"height":22,"data":{"values":[]},"mark":"point"},

  {"width":594,"height":{"step":23},
   "data":{"values":[
    {"line":1,"w":"b","text":"日本提分红行业：下游泛公用事业与消费。"},
    {"line":1,"w":"m","text":"从 2000-2010 年日本各行业"},
    {"line":2,"w":"n","text":"的股息率来看，股息率绝对值较高的行业包括公用事业、能源大宗品、"},
    {"line":3,"w":"n","text":"医药、社服、地产、建筑建材等，但就 2005 年后红利指数跑出绝对收益"}]},
   "encoding":{"y":{"field":"line","type":"ordinal","axis":null},"text":{"field":"text"}},
   "layer":[
    {"transform":[{"filter":"datum.w == 'b'"}],"mark":{"type":"text","align":"left","baseline":"middle","font":"Liberation Serif, Noto Sans CJK SC","fontSize":14,"fontWeight":"bold","color":"#000"}},
    {"transform":[{"filter":"datum.w == 'n'"}],"mark":{"type":"text","align":"left","baseline":"middle","font":"Liberation Serif, Noto Sans CJK SC","fontSize":14,"color":"#000"}},
    {"transform":[{"filter":"datum.w == 'm'"}],"mark":{"type":"text","align":"left","baseline":"middle","font":"Liberation Serif, Noto Sans CJK SC","fontSize":14,"color":"#000","dx":271}}
   ]},

  {"width":1,"height":4,"data":{"values":[]},"mark":"point"},

  {"hconcat":[
    {"width":238,"height":24,"data":{"values":[{"t":"请务必阅读正文之后的免责条款部分"}]},"mark":{"type":"text","align":"left","baseline":"middle","font":"Liberation Serif, Noto Sans CJK SC","fontSize":12.5,"fontWeight":"bold","color":"#000"},"encoding":{"text":{"field":"t"}}},
    {"width":456,"height":1,"data":{"values":[]},"mark":"point"},
    {"width":1,"height":24,"data":{"values":[{"t":"8 of 18"}]},"mark":{"type":"text","align":"right","baseline":"middle","font":"Liberation Serif","fontSize":13,"color":"#000"},"encoding":{"text":{"field":"t"}}}
  ],"spacing":0,"bounds":"flush"}
]
}
